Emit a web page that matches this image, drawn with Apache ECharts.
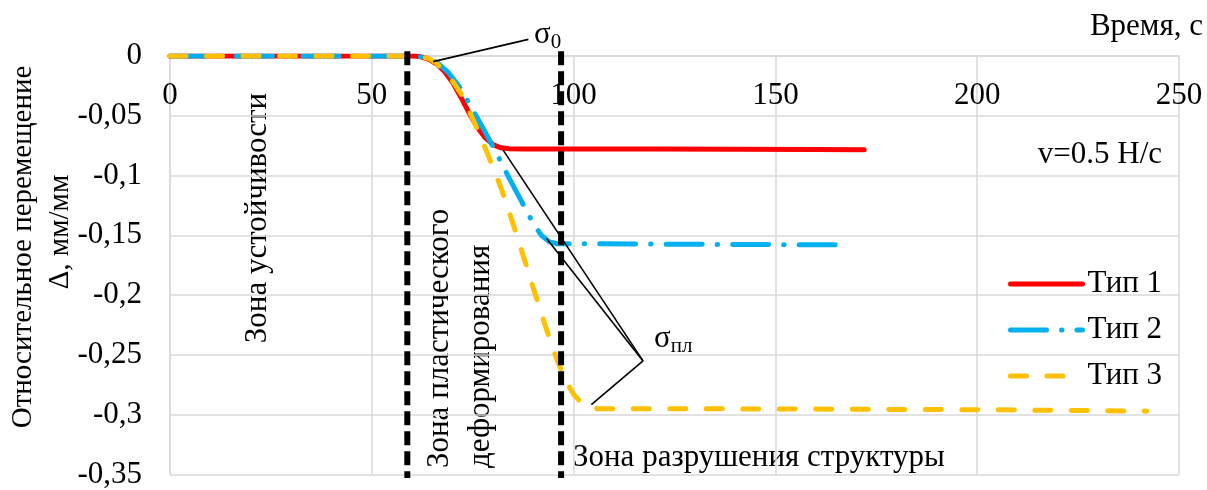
<!DOCTYPE html>
<html>
<head>
<meta charset="utf-8">
<script src="https://cdn.jsdelivr.net/npm/echarts@6/dist/echarts.min.js"></script>
<style>
html,body{margin:0;padding:0;background:#fff;}
#chart{width:1207px;height:490px;}
</style>
</head>
<body>
<div id="chart"></div>
<script>
// Relative displacement vs. time for three specimen types (v = 0.5 N/s)
const seriesNames = ['Тип 1', 'Тип 2', 'Тип 3'];

const type1Time = [0, 10, 20, 30, 40, 50, 60, 62, 64, 66, 68, 70, 72, 74, 76, 78, 80, 82, 84, 88, 100, 120, 140, 160, 172];
const type1Disp = [0, 0, 0, 0, 0, 0, 0, -0.0005, -0.0025, -0.0065, -0.013, -0.022, -0.034, -0.047, -0.059, -0.068, -0.074, -0.0768, -0.0776, -0.0777, -0.0777, -0.0777, -0.0779, -0.0782, -0.0785];

const type2Time = [0, 20, 40, 60, 63, 66, 69, 72, 75, 78, 81, 84, 87, 90, 92, 94, 96, 100, 130, 168];
const type2Disp = [0, 0, 0, 0, -0.001, -0.005, -0.014, -0.027, -0.045, -0.063, -0.082, -0.102, -0.121, -0.140, -0.150, -0.1555, -0.157, -0.157, -0.1575, -0.158];

const type3Time = [0, 20, 40, 60, 62, 64, 66, 68, 70, 72, 74, 76, 78, 80, 82, 84, 86, 88, 90, 92, 94, 96, 98, 100, 102, 104, 106, 120, 150, 200, 242];
const type3Disp = [0, 0, 0, 0, -0.0005, -0.002, -0.006, -0.013, -0.021, -0.031, -0.045, -0.060, -0.076, -0.093, -0.110, -0.130, -0.151, -0.172, -0.194, -0.215, -0.236, -0.255, -0.271, -0.283, -0.290, -0.294, -0.295, -0.295, -0.2952, -0.2958, -0.297];

// Zone boundaries (time, s)
const zoneBounds = [58.8, 96.9];

// Leader lines: σ0 and σпл callouts
const sigma0Leader = [[65.2, -0.0047], [88.8, 0.0139]];
const sigmaPlPoint = [117.2, -0.255];
const sigmaPlKnees = [[82.5, -0.0785], [93.3, -0.1526], [104.4, -0.2915]];

const xTicks = { min: 0, max: 250, interval: 50 };
const yTicks = { min: -0.35, max: 0, interval: 0.05 };

const FONT = '"Liberation Serif", "Times New Roman", serif';
const FS = 31;
const zip = (xs, ys) => xs.map((x, i) => [x, ys[i]]);

const chart = echarts.init(document.getElementById('chart'), null, { renderer: 'canvas' });

const curveBase = { type: 'line', symbol: 'none', smooth: false, z: 3 };

const series = [
  Object.assign({}, curveBase, {
    name: seriesNames[0], data: zip(type1Time, type1Disp),
    lineStyle: { color: '#FF0000', width: 5, cap: 'round', join: 'round' }, itemStyle: { color: '#FF0000' }
  }),
  Object.assign({}, curveBase, {
    name: seriesNames[1], data: zip(type2Time, type2Disp),
    lineStyle: { color: '#00B0F0', width: 5, type: [36, 15, 0.5, 15], cap: 'round', join: 'round' }, itemStyle: { color: '#00B0F0' }
  }),
  Object.assign({}, curveBase, {
    name: seriesNames[2], data: zip(type3Time, type3Disp),
    lineStyle: { color: '#FFC000', width: 5, type: [16, 20.5], cap: 'round', join: 'round' }, itemStyle: { color: '#FFC000' }
  })
];

// Black dashed zone boundaries
zoneBounds.forEach(function (t) {
  series.push({
    type: 'line', symbol: 'none', clip: false, silent: true, z: 4,
    data: [[t, 0.004], [t, -0.353]],
    lineStyle: { color: '#000', width: 6, type: [14, 6] }
  });
});

// Thin black leader lines
series.push({
  type: 'line', symbol: 'none', clip: false, silent: true, z: 5,
  data: sigma0Leader, lineStyle: { color: '#000', width: 1.6 }
});
sigmaPlKnees.forEach(function (p) {
  series.push({
    type: 'line', symbol: 'none', clip: false, silent: true, z: 5,
    data: [p, sigmaPlPoint], lineStyle: { color: '#000', width: 1.6 }
  });
});

const gridColor = '#d9d9d9';
const txt = (o) => ({ type: 'text', x: o.x, y: o.y, rotation: o.rot || 0,
  style: { text: o.text, font: (o.fs || FS) + 'px ' + FONT, fill: '#000', align: o.align || 'left', verticalAlign: 'middle' } });

chart.setOption({
  animation: false,
  textStyle: { fontFamily: FONT },
  grid: { left: 170, right: 28, top: 56, bottom: 12 },
  legend: {
    data: seriesNames,
    orient: 'vertical',
    left: 1008, top: 268, padding: 0,
    itemWidth: 72, itemHeight: 14, itemGap: 14,
    itemStyle: { opacity: 0 },
    lineStyle: { width: 5, cap: 'round' },
    textStyle: { fontFamily: FONT, fontSize: FS, lineHeight: 32, color: '#000' }
  },
  xAxis: {
    type: 'value', position: 'top',
    min: xTicks.min, max: xTicks.max, interval: xTicks.interval,
    axisLine: { show: true, onZero: false, lineStyle: { color: gridColor, width: 1.5 } },
    axisTick: { show: false },
    axisLabel: { inside: true, margin: 24, fontFamily: FONT, fontSize: FS, color: '#000', verticalAlign: 'top' },
    splitLine: { show: true, lineStyle: { color: gridColor, width: 1.5 } }
  },
  yAxis: {
    type: 'value',
    min: yTicks.min, max: yTicks.max, interval: yTicks.interval,
    axisLine: { show: true, lineStyle: { color: gridColor, width: 1.5 } },
    axisTick: { show: false },
    axisLabel: {
      margin: 28, fontFamily: FONT, fontSize: FS, color: '#000',
      formatter: function (v) { return String(+v.toFixed(2)).replace('.', ','); }
    },
    splitLine: { show: true, lineStyle: { color: gridColor, width: 1.5 } }
  },
  graphic: [
    txt({ x: 1203, y: 27, text: 'Время, с', align: 'right' }),
    txt({ x: 1162, y: 155, text: 'v=0.5 Н/с', align: 'right' }),
    txt({ x: 23, y: 247, rot: Math.PI / 2, text: 'Относительное перемещение', align: 'center', fs: 29 }),
    txt({ x: 60, y: 232, rot: Math.PI / 2, text: 'Δ, мм/мм', align: 'center', fs: 29 }),
    txt({ x: 258, y: 218, rot: Math.PI / 2, text: 'Зона устойчивости', align: 'center' }),
    txt({ x: 440, y: 468, rot: Math.PI / 2, text: 'Зона пластического' }),
    txt({ x: 481, y: 468, rot: Math.PI / 2, text: 'деформирования' }),
    txt({ x: 573, y: 458, text: 'Зона разрушения структуры' }),
    { type: 'text', x: 534, y: 35, style: {
        text: '{s|σ}{sub|0}', verticalAlign: 'middle', align: 'left',
        rich: { s: { font: '31px ' + FONT, fill: '#000' }, sub: { font: '21px ' + FONT, fill: '#000', padding: [14, 0, 0, 0] } }
    } },
    { type: 'text', x: 654, y: 339, style: {
        text: '{s|σ}{sub|пл}', verticalAlign: 'middle', align: 'left',
        rich: { s: { font: '31px ' + FONT, fill: '#000' }, sub: { font: '21px ' + FONT, fill: '#000', padding: [14, 0, 0, 0] } }
    } }
  ],
  series: series
});
</script>
</body>
</html>
